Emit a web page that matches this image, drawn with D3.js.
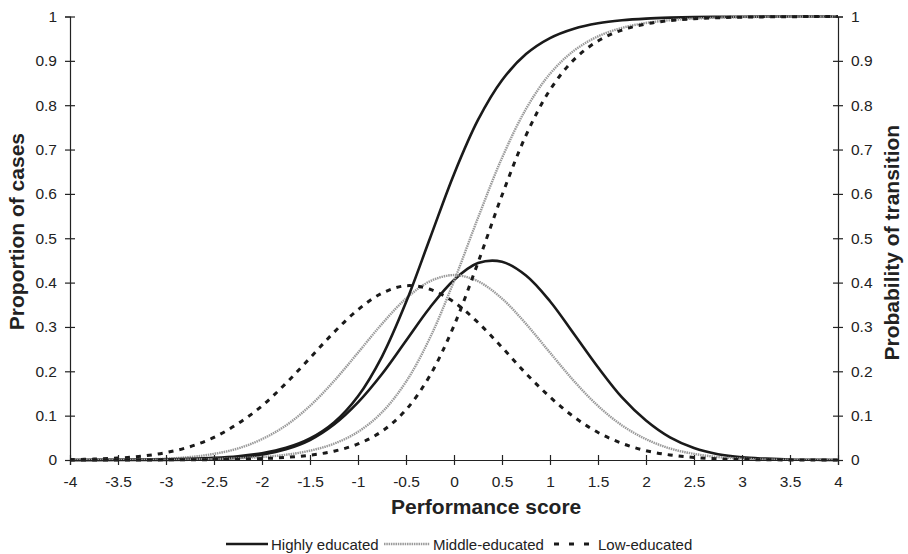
<!DOCTYPE html>
<html>
<head>
<meta charset="utf-8">
<script src="https://cdn.jsdelivr.net/npm/d3@7"></script>
<style>
  body { margin: 0; background: #fff; }
  text { font-family: "Liberation Sans", Arial, sans-serif; fill: #222; }
</style>
</head>
<body>
<div id="chart"></div>
<script>
// performance score grid
const scores = [-4, -3.75, -3.5, -3.25, -3, -2.75, -2.5, -2.25, -2, -1.75, -1.5, -1.25, -1, -0.75, -0.5, -0.25,
  0, 0.25, 0.5, 0.75, 1, 1.25, 1.5, 1.75, 2, 2.25, 2.5, 2.75, 3, 3.25, 3.5, 3.75, 4];

// proportion of cases (bell curves)
const highCases = [0, 0, 0, 0.0001, 0.0003, 0.0008, 0.002, 0.005, 0.012, 0.024, 0.045, 0.080, 0.130, 0.194, 0.269, 0.344,
  0.406, 0.444, 0.447, 0.416, 0.358, 0.284, 0.209, 0.141, 0.089, 0.051, 0.027, 0.013, 0.006, 0.003, 0.001, 0.0004, 0.0001];
const middleCases = [0.0001, 0.0002, 0.0005, 0.0013, 0.003, 0.0067, 0.0138, 0.026, 0.047, 0.078, 0.122, 0.178, 0.242, 0.307, 0.364, 0.403,
  0.417, 0.403, 0.364, 0.307, 0.242, 0.178, 0.122, 0.078, 0.047, 0.026, 0.0138, 0.0067, 0.003, 0.0013, 0.0005, 0.0002, 0.0001];
const lowCases = [0.0009, 0.002, 0.0043, 0.0087, 0.0167, 0.030, 0.051, 0.082, 0.122, 0.173, 0.230, 0.288, 0.339, 0.376, 0.393, 0.385,
  0.356, 0.310, 0.254, 0.195, 0.142, 0.097, 0.062, 0.0375, 0.021, 0.0114, 0.0057, 0.0027, 0.0012, 0.0005, 0.0002, 0.0001, 0];

// probability of transition (S curves)
const highTrans = [0.0001, 0.0002, 0.0004, 0.0008, 0.0014, 0.0026, 0.0047, 0.0085, 0.0153, 0.0274, 0.0486, 0.0847, 0.1437, 0.2333, 0.3555, 0.5,
  0.6445, 0.7667, 0.8563, 0.9153, 0.9514, 0.9726, 0.9847, 0.9915, 0.9953, 0.9974, 0.9986, 0.9992, 0.9996, 0.9998, 0.9999, 0.9999, 1];
const middleTrans = [0.0001, 0.0001, 0.0002, 0.0004, 0.0007, 0.0012, 0.0022, 0.0038, 0.0068, 0.0119, 0.021, 0.0367, 0.0635, 0.1076, 0.1764, 0.2757,
  0.4035, 0.5459, 0.6811, 0.7915, 0.8709, 0.923, 0.9552, 0.9743, 0.9854, 0.9917, 0.9953, 0.9974, 0.9985, 0.9992, 0.9995, 0.9997, 0.9999];
const lowTrans = [0, 0, 0.0001, 0.0002, 0.0003, 0.0005, 0.001, 0.0018, 0.0032, 0.0059, 0.0109, 0.0199, 0.0362, 0.0648, 0.1132, 0.1907,
  0.303, 0.4451, 0.5968, 0.732, 0.8344, 0.9029, 0.9449, 0.9694, 0.9832, 0.9908, 0.995, 0.9973, 0.9985, 0.9992, 0.9996, 0.9998, 0.9999];

const xTicks = [-4, -3.5, -3, -2.5, -2, -1.5, -1, -0.5, 0, 0.5, 1, 1.5, 2, 2.5, 3, 3.5, 4];
const yTicks = [0, 0.1, 0.2, 0.3, 0.4, 0.5, 0.6, 0.7, 0.8, 0.9, 1];
const groups = ["Highly educated", "Middle-educated", "Low-educated"];

const width = 908, height = 554;
const margin = {top: 16.5, right: 70, bottom: 94, left: 70};

const svg = d3.select("#chart").append("svg")
  .attr("width", width)
  .attr("height", height);

const x = d3.scaleLinear().domain([-4, 4]).range([margin.left, width - margin.right]);
const y = d3.scaleLinear().domain([0, 1]).range([height - margin.bottom, margin.top]);

const styles = [
  {stroke: "#1a1a1a", width: 2.6, dash: null, legendDash: null},
  {stroke: "#9a9a9a", width: 2.4, dash: "1.5,0.8", legendDash: "1.5,0.8"},
  {stroke: "#1a1a1a", width: 3, dash: "5,6", legendDash: "5,10"}
];

const line = d3.line()
  .x(d => x(d[0]))
  .y(d => y(Math.max(0, d[1])))
  .curve(d3.curveCatmullRom.alpha(0.5));

const series = [
  {vals: highCases, s: 0}, {vals: middleCases, s: 1}, {vals: lowCases, s: 2},
  {vals: highTrans, s: 0}, {vals: middleTrans, s: 1}, {vals: lowTrans, s: 2}
];

svg.append("g")
  .selectAll("path")
  .data(series)
  .enter()
  .append("path")
  .attr("d", d => line(scores.map((s, i) => [s, d.vals[i]])))
  .attr("fill", "none")
  .attr("stroke", d => styles[d.s].stroke)
  .attr("stroke-width", d => styles[d.s].width)
  .attr("stroke-dasharray", d => styles[d.s].dash);

// axes, ticks cross the axis line
const fmt = d => String(d);
const xAxis = svg.append("g")
  .attr("transform", `translate(0,${y(0)})`)
  .call(d3.axisBottom(x).tickValues(xTicks).tickFormat(fmt).tickSize(5).tickPadding(11));
xAxis.selectAll(".tick line").attr("y1", -5).attr("y2", 5);

const yLeft = svg.append("g")
  .attr("transform", `translate(${x(-4)},0)`)
  .call(d3.axisLeft(y).tickValues(yTicks).tickFormat(fmt).tickSize(5).tickPadding(8));
yLeft.selectAll(".tick line").attr("x1", -5).attr("x2", 5);

const yRight = svg.append("g")
  .attr("transform", `translate(${x(4)},0)`)
  .call(d3.axisRight(y).tickValues(yTicks).tickFormat(fmt).tickSize(5).tickPadding(8));
yRight.selectAll(".tick line").attr("x1", -5).attr("x2", 5);

svg.selectAll(".domain").attr("stroke", "#222").attr("stroke-width", 1.2);
svg.selectAll(".tick line").attr("stroke", "#222").attr("stroke-width", 1.2);
svg.selectAll(".tick text")
  .style("font-size", "15.5px")
  .style("font-family", "Liberation Sans, Arial, sans-serif")
  .attr("fill", "#222");

// titles
svg.append("text")
  .attr("x", 391).attr("y", 514)
  .attr("text-anchor", "start")
  .attr("font-size", "21px").attr("font-weight", "bold")
  .text("Performance score");

svg.append("text")
  .attr("transform", `translate(24,${y(0.515)}) rotate(-90)`)
  .attr("text-anchor", "middle")
  .attr("font-size", "21px").attr("font-weight", "bold")
  .text("Proportion of cases");

svg.append("text")
  .attr("transform", `translate(899,${y(0.49)}) rotate(-90)`)
  .attr("text-anchor", "middle")
  .attr("font-size", "21px").attr("font-weight", "bold")
  .text("Probability of transition");

// legend
const legendX = [226, 384, 554];
const legendLen = [42, 46, 36];
const legend = svg.append("g")
  .selectAll("g")
  .data(groups)
  .enter()
  .append("g")
  .attr("transform", (d, i) => `translate(${legendX[i]},544)`);

legend.append("line")
  .attr("x1", 0).attr("x2", (d, i) => legendLen[i])
  .attr("y1", 0).attr("y2", 0)
  .attr("stroke", (d, i) => styles[i].stroke)
  .attr("stroke-width", (d, i) => styles[i].width)
  .attr("stroke-dasharray", (d, i) => styles[i].legendDash);

legend.append("text")
  .attr("x", (d, i) => legendLen[i] + (i === 2 ? 8 : 3))
  .attr("y", 5.5)
  .attr("font-size", "15px")
  .text(d => d);
</script>
</body>
</html>
